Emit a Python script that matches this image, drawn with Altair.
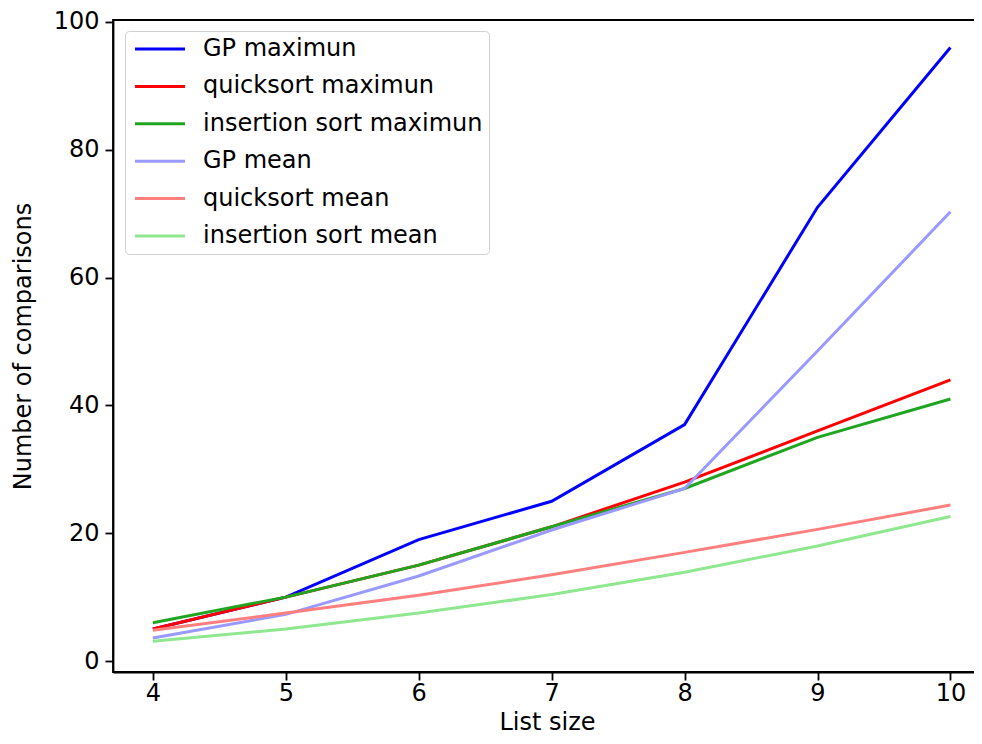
import altair as alt
import pandas as pd

sizes = [4, 5, 6, 7, 8, 9, 10]
gp_max = [5, 10, 19, 25, 37, 71, 96]
qs_max = [5, 10, 15, 21, 28, 36, 44]
ins_max = [6, 10, 15, 21, 27, 35, 41]
gp_mean = [3.6, 7.3, 13.3, 20.5, 27.0, 48.5, 70.3]
qs_mean = [4.8, 7.5, 10.3, 13.5, 17.0, 20.6, 24.4]
ins_mean = [3.1, 5.0, 7.5, 10.4, 13.9, 18.0, 22.6]

series_names = ["GP maximun", "quicksort maximun", "insertion sort maximun",
                "GP mean", "quicksort mean", "insertion sort mean"]
series_colors = ["#0000ff", "#ff0000", "#1fa51f", "#9999ff", "#ff7f7f", "#8fe88f"]
series_values = [gp_max, qs_max, ins_max, gp_mean, qs_mean, ins_mean]

rows = []
for i, (name, vals) in enumerate(zip(series_names, series_values)):
    for s, v in zip(sizes, vals):
        rows.append({"size": s, "value": v, "series": name, "order": i})
df = pd.DataFrame(rows)

font = "DejaVu Sans"
fs = 24

chart = alt.Chart(df).mark_line(strokeWidth=3, clip=True).encode(
    x=alt.X("size:Q", title="List size",
            scale=alt.Scale(domain=[3.7, 10.23], nice=False, zero=False),
            axis=alt.Axis(values=sizes, format="d", grid=False, labelPadding=1,
                          titlePadding=5)),
    y=alt.Y("value:Q", title="Number of comparisons",
            scale=alt.Scale(domain=[-1.72, 100.31], nice=False, zero=False),
            axis=alt.Axis(values=[0, 20, 40, 60, 80, 100], grid=False,
                          labelPadding=6, titlePadding=18)),
    color=alt.Color("series:N",
                    scale=alt.Scale(domain=series_names, range=series_colors),
                    sort=series_names,
                    legend=alt.Legend(title=None, orient="none", legendX=12, legendY=11,
                                      symbolType="M-2.5,0H2.5", symbolSize=400,
                                      symbolOffset=17,
                                      symbolStrokeWidth=3, labelFontSize=fs,
                                      labelFont=font, labelColor="black",
                                      labelLimit=400,
                                      labelOffset=31, rowPadding=13.4,
                                      fillColor="white", strokeColor="#d0d0d0",
                                      cornerRadius=4, padding=6)),
    detail="order:O",
    order="order:O",
).properties(
    width=868, height=652,
    autosize=alt.AutoSizeParams(type="none"),
    padding={"left": 105, "top": 12, "right": -7, "bottom": 64},
).configure_view(
    stroke="black", strokeWidth=1.8
).configure_axis(
    labelFont=font, titleFont=font, labelFontSize=fs, titleFontSize=fs,
    labelColor="black", titleColor="black", titleFontWeight="normal",
    domainColor="black", tickColor="black", domainWidth=1.8, tickWidth=1.8,
    tickSize=8
)

chart.save("out.html", embed_options={"renderer": "svg", "actions": False})
